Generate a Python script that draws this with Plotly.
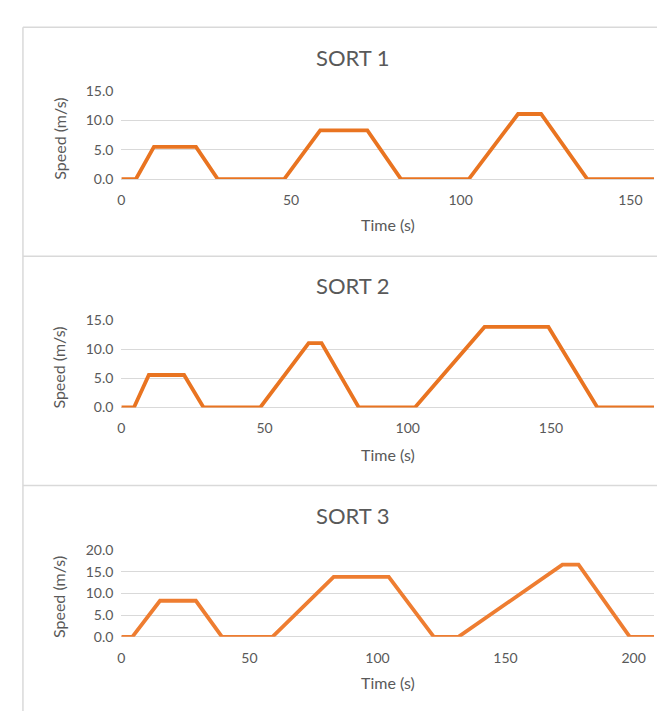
import plotly.graph_objects as go

W, H = 665, 711

# ---- data ----
sort1_time = [0, 4.3, 9.6, 22.0, 28.4, 48.0, 58.6, 72.5, 82.4, 102.4, 116.9, 123.7, 137.3, 157]
sort1_speed = [0, 0, 5.5, 5.5, 0, 0, 8.3, 8.3, 0, 0, 11.1, 11.1, 0, 0]

sort2_time = [0, 4.4, 9.6, 21.9, 28.7, 48.5, 65.4, 69.9, 82.9, 102.5, 126.8, 149.1, 166.2, 186]
sort2_speed = [0, 0, 5.6, 5.6, 0, 0, 11.1, 11.1, 0, 0, 13.9, 13.9, 0, 0]

sort3_time = [0, 4.3, 15.1, 29.1, 39.3, 59.0, 82.9, 104.4, 122.0, 131.6, 172.2, 178.5, 198.5, 208]
sort3_speed = [0, 0, 8.3, 8.3, 0, 0, 13.8, 13.8, 0, 0, 16.6, 16.6, 0, 0]

titles = ["SORT 1", "SORT 2", "SORT 3"]
x_title = "Time (s)"
y_title = "Speed (m/s)"
x_max = [157, 186, 208]
y_max = [15, 15, 20]

FONT = "Lato, Carlito, Calibri, sans-serif"
GREY = "#595959"
GRID = "#D9D9D9"
ORANGE = ["#E97421", "#E97421", "#EE7D31"]


def fy(py):
    return 1 - py / H


def fx(px):
    return px / W


# pixel geometry of each panel: (y of zero line, y of top gridline, title y, x-title y)
panels = [
    (166, 76, 41, 213),
    (400, 311, 275, 448),
    (635, 546, 511, 682),
]
plot_left, plot_right = 110, 646

fig = go.Figure()
series = [(sort1_time, sort1_speed), (sort2_time, sort2_speed), (sort3_time, sort3_speed)]

annotations = []
for i, ((t, s), (y0, y1, ty, xty)) in enumerate(zip(series, panels)):
    n = "" if i == 0 else str(i + 1)
    fig.add_trace(go.Scatter(
        x=t, y=s, mode="lines",
        line=dict(color=ORANGE[i], width=3.8),
        xaxis="x" + n, yaxis="y" + n, cliponaxis=False,
        showlegend=False, hoverinfo="skip",
    ))
    fig.layout["xaxis" + n] = dict(
        domain=[fx(plot_left), fx(plot_right)], anchor="y" + n,
        range=[0, x_max[i]], dtick=50, tick0=0,
        showgrid=False, zeroline=False, showline=False, ticks="",
        tickfont=dict(family=FONT, size=14, color=GREY), ticklabelstandoff=11,
    )
    fig.layout["yaxis" + n] = dict(
        domain=[fy(y0), fy(y1)], anchor="x" + n,
        range=[0, y_max[i]], dtick=5, tick0=0, tickformat=".1f",
        showgrid=True, gridcolor=GRID, gridwidth=1,
        zeroline=True, zerolinecolor=GRID, zerolinewidth=1,
        showline=False, ticks="",
        tickfont=dict(family=FONT, size=14, color=GREY), ticklabelstandoff=7,
    )
    annotations.append(dict(
        text=titles[i], x=fx(343), y=fy(ty), xref="paper", yref="paper",
        showarrow=False, xanchor="center", yanchor="middle",
        font=dict(family=FONT, size=22, color=GREY),
    ))
    annotations.append(dict(
        text=x_title, x=fx(378), y=fy(xty), xref="paper", yref="paper",
        showarrow=False, xanchor="center", yanchor="middle",
        font=dict(family=FONT, size=16, color=GREY),
    ))
    annotations.append(dict(
        text=y_title, x=fx(47), y=fy((y0 + y1) / 2 + 4), xref="paper", yref="paper",
        showarrow=False, xanchor="center", yanchor="middle", textangle=-90,
        font=dict(family=FONT, size=16, color=GREY),
    ))

shapes = [
    dict(type="line", xref="paper", yref="paper", x0=fx(11), x1=fx(11),
         y0=fy(10.5), y1=0, line=dict(color=GRID, width=1.5)),
]
for py in (10.5, 245, 480):
    shapes.append(dict(type="line", xref="paper", yref="paper", x0=fx(11), x1=1,
                       y0=fy(py), y1=fy(py), line=dict(color=GRID, width=1.5)))

fig.update_layout(
    width=W, height=H,
    margin=dict(l=0, r=0, t=0, b=0),
    paper_bgcolor="white", plot_bgcolor="white",
    annotations=annotations, shapes=shapes,
)

fig.write_html("out.html")
